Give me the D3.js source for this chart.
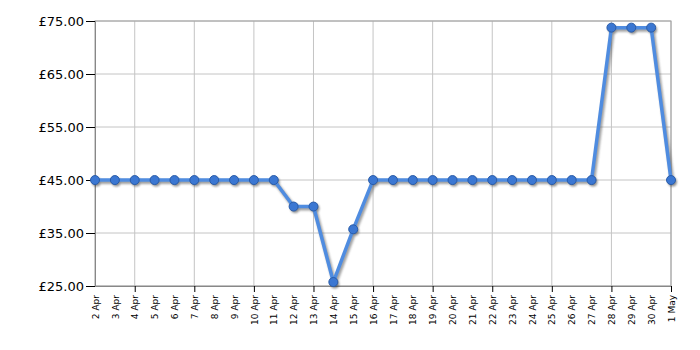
<!DOCTYPE html>
<html>
<head>
<meta charset="utf-8">
<script src="https://cdn.jsdelivr.net/npm/d3@7"></script>
<style>
  body { margin: 0; background: #fff; }
  svg text { font-family: "DejaVu Sans", Verdana, sans-serif; }
</style>
</head>
<body>
<div id="chart"></div>
<script>
// Data
const dates = ["2 Apr", "3 Apr", "4 Apr", "5 Apr", "6 Apr", "7 Apr", "8 Apr", "9 Apr", "10 Apr", "11 Apr",
    "12 Apr", "13 Apr", "14 Apr", "15 Apr", "16 Apr", "17 Apr", "18 Apr", "19 Apr", "20 Apr", "21 Apr",
    "22 Apr", "23 Apr", "24 Apr", "25 Apr", "26 Apr", "27 Apr", "28 Apr", "29 Apr", "30 Apr", "1 May"];
const prices = [44.99, 44.99, 44.99, 44.99, 44.99, 44.99, 44.99, 44.99, 44.99, 44.99,
    39.99, 39.99, 25.75, 35.70, 44.99, 44.99, 44.99, 44.99, 44.99, 44.99,
    44.99, 44.99, 44.99, 44.99, 44.99, 44.99, 73.75, 73.75, 73.75, 44.99];
const yTicks = [25, 35, 45, 55, 65, 75];
// vertical gridlines / major ticks
const majorDates = ["4 Apr", "7 Apr", "10 Apr", "13 Apr", "16 Apr", "19 Apr", "22 Apr", "25 Apr", "28 Apr", "1 May"];

const width = 700, height = 350;
const margin = { top: 21, right: 29, bottom: 64, left: 95 };

const svg = d3.select("#chart").append("svg")
    .attr("width", width)
    .attr("height", height);

const x = d3.scalePoint()
    .domain(dates)
    .range([margin.left, width - margin.right]);

const y = d3.scaleLinear()
    .domain([25, 75])
    .range([height - margin.bottom, margin.top]);

const defs = svg.append("defs");
defs.append("filter").attr("id", "blur")
    .append("feGaussianBlur").attr("stdDeviation", 0.8);

// Gridlines
svg.append("g")
    .selectAll("line")
    .data(yTicks)
    .join("line")
    .attr("x1", margin.left).attr("x2", width - margin.right)
    .attr("y1", d => y(d)).attr("y2", d => y(d))
    .attr("stroke", "#c4c4c4");

svg.append("g")
    .selectAll("line")
    .data(majorDates)
    .join("line")
    .attr("x1", d => x(d)).attr("x2", d => x(d))
    .attr("y1", margin.top).attr("y2", height - margin.bottom)
    .attr("stroke", "#c4c4c4");

// Frame
svg.append("rect")
    .attr("x", margin.left).attr("y", margin.top)
    .attr("width", width - margin.left - margin.right)
    .attr("height", height - margin.top - margin.bottom)
    .attr("fill", "none")
    .attr("stroke", "#a0a0a0");

// Y axis
const yAxis = svg.append("g")
    .attr("transform", `translate(${margin.left},0)`)
    .call(d3.axisLeft(y).tickValues(yTicks).tickSize(9).tickPadding(2)
        .tickFormat(d => "£" + d3.format(".2f")(d)));
yAxis.select(".domain").attr("stroke", "#888");
yAxis.selectAll(".tick line").attr("stroke", "#000");
yAxis.selectAll("text").attr("font-size", 13).attr("fill", "#000")
    .attr("font-family", "DejaVu Sans, Verdana, sans-serif");

// X axis
const xAxis = svg.append("g")
    .attr("transform", `translate(0,${height - margin.bottom})`)
    .call(d3.axisBottom(x).tickSize(0).tickPadding(0));
xAxis.select(".domain").attr("stroke", "#888");
xAxis.selectAll("text")
    .attr("font-size", 9)
    .attr("fill", "#000")
    .attr("font-family", "DejaVu Sans, Verdana, sans-serif")
    .attr("transform", "rotate(-90)")
    .attr("text-anchor", "end")
    .attr("dy", "0.35em")
    .attr("x", -9)
    .attr("y", 0);
xAxis.selectAll(".tick")
    .filter(d => majorDates.includes(d))
    .append("line")
    .attr("y2", 6)
    .attr("stroke", "#000");

const pts = dates.map((d, i) => [x(d), y(prices[i])]);
const line = d3.line();

// Shadow
const shadow = svg.append("g")
    .attr("transform", "translate(1.5,2)")
    .attr("filter", "url(#blur)")
    .attr("opacity", 0.55);
shadow.append("path")
    .attr("d", line(pts))
    .attr("fill", "none")
    .attr("stroke", "#555")
    .attr("stroke-width", 4)
    .attr("stroke-linejoin", "round");
shadow.selectAll("circle")
    .data(pts)
    .join("circle")
    .attr("cx", d => d[0]).attr("cy", d => d[1])
    .attr("r", 4.5)
    .attr("fill", "#333");

// Line
svg.append("path")
    .attr("d", line(pts))
    .attr("fill", "none")
    .attr("stroke", "#4f8ce0")
    .attr("stroke-width", 3.5)
    .attr("stroke-linejoin", "round");

// Points
svg.append("g")
    .selectAll("circle")
    .data(pts)
    .join("circle")
    .attr("cx", d => d[0]).attr("cy", d => d[1])
    .attr("r", 4.5)
    .attr("fill", "#3b77d2")
    .attr("stroke", "#2a5ca8")
    .attr("stroke-width", 1);
</script>
</body>
</html>
